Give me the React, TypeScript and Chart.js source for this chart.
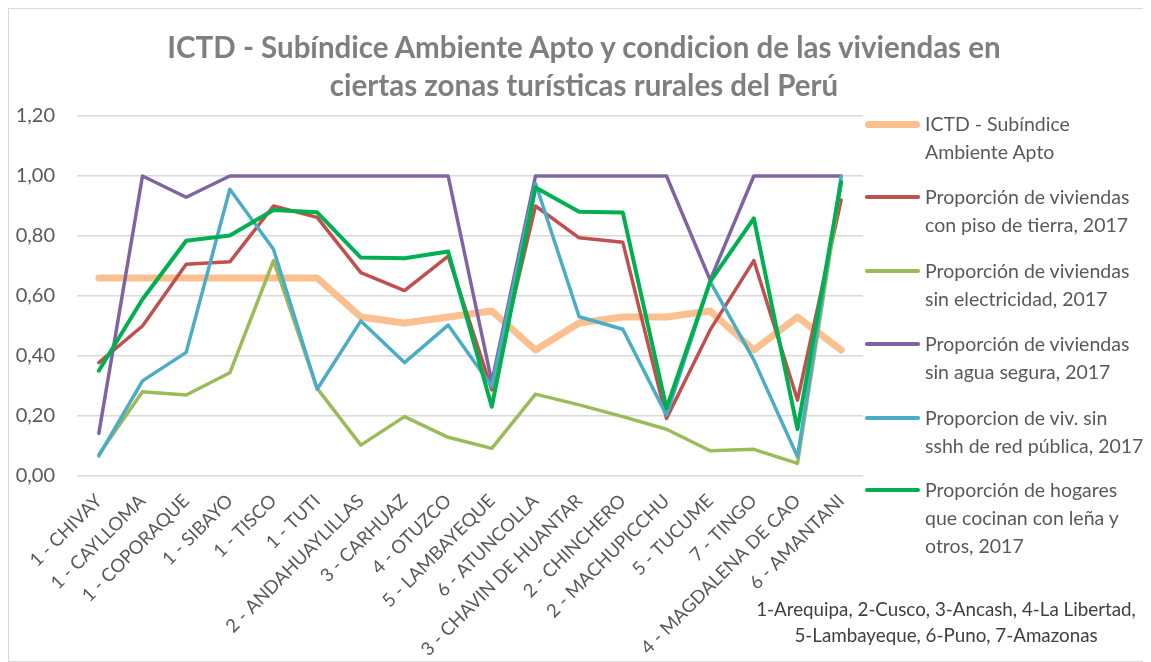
import React, { useEffect, useRef } from "react";
import { Chart, registerables } from "chart.js";

Chart.register(...registerables);

const categories = [
  "1 - CHIVAY", "1 - CAYLLOMA", "1 - COPORAQUE", "1 - SIBAYO", "1 - TISCO", "1 - TUTI",
  "2 - ANDAHUAYLILLAS", "3 - CARHUAZ", "4 - OTUZCO", "5 - LAMBAYEQUE", "6 - ATUNCOLLA",
  "3 - CHAVIN DE HUANTAR", "2 - CHINCHERO", "2 - MACHUPICCHU", "5 - TUCUME", "7 - TINGO",
  "4 - MAGDALENA DE CAO", "6 - AMANTANI",
];

const ictd = [0.66, 0.66, 0.66, 0.66, 0.66, 0.66, 0.53, 0.51, 0.53, 0.55, 0.42, 0.51, 0.53, 0.53, 0.55, 0.42, 0.53, 0.42];
const pisoTierra = [0.378, 0.5, 0.706, 0.714, 0.9, 0.862, 0.678, 0.618, 0.733, 0.287, 0.9, 0.794, 0.779, 0.192, 0.487, 0.718, 0.253, 0.92];
const sinElectricidad = [0.072, 0.281, 0.27, 0.344, 0.718, 0.292, 0.103, 0.198, 0.129, 0.092, 0.273, 0.237, 0.198, 0.156, 0.084, 0.089, 0.042, 0.98];
const sinAgua = [0.142, 1.0, 0.929, 1.0, 1.0, 1.0, 1.0, 1.0, 1.0, 0.314, 1.0, 1.0, 1.0, 1.0, 0.653, 1.0, 1.0, 1.0];
const sinSshh = [0.067, 0.317, 0.412, 0.956, 0.756, 0.289, 0.517, 0.378, 0.503, 0.298, 0.976, 0.531, 0.489, 0.203, 0.648, 0.387, 0.064, 1.0];
const lena = [0.351, 0.589, 0.784, 0.802, 0.887, 0.879, 0.728, 0.726, 0.748, 0.231, 0.962, 0.881, 0.878, 0.226, 0.648, 0.859, 0.156, 0.98];

const yTicks = [0, 0.2, 0.4, 0.6, 0.8, 1.0, 1.2];

const seriesNames = [
  ["ICTD - Subíndice", "Ambiente Apto"],
  ["Proporción de viviendas", "con piso de tierra, 2017"],
  ["Proporción de viviendas", "sin electricidad, 2017"],
  ["Proporción de viviendas", "sin agua segura, 2017"],
  ["Proporcion de viv. sin", "sshh de red pública, 2017"],
  ["Proporción de hogares", "que cocinan con leña y", "otros, 2017"],
];
const seriesColors = ["#FAC090", "#C0504D", "#9BBB59", "#8064A2", "#4BACC6", "#00B050"];
const seriesWidths = [7, 3.5, 3.5, 3.5, 3.5, 4];
const seriesData = [ictd, pisoTierra, sinElectricidad, sinAgua, sinSshh, lena];

const titleLines = [
  "ICTD - Subíndice Ambiente Apto y condicion de las viviendas en",
  "ciertas zonas turísticas rurales del Perú",
];
const noteLines = [
  "1-Arequipa, 2-Cusco, 3-Ancash, 4-La Libertad,",
  "5-Lambayeque, 6-Puno, 7-Amazonas",
];

const FONT = "Lato, 'Noto Sans', sans-serif";
const TEXT = "#595959";

export default function App() {
  const ref = useRef<HTMLCanvasElement | null>(null);

  useEffect(() => {
    if (!ref.current) return;
    const chart = new Chart(ref.current, {
      type: "line",
      data: {
        labels: categories,
        datasets: seriesData.map((d, i) => ({
          label: seriesNames[i].join(" "),
          data: d,
          borderColor: seriesColors[i],
          backgroundColor: seriesColors[i],
          borderWidth: seriesWidths[i],
          pointRadius: 0,
          tension: 0,
          fill: false,
          borderJoinStyle: "round" as const,
          borderCapStyle: "round" as const,
          order: seriesData.length - i,
        })),
      },
      options: {
        animation: false,
        responsive: false,
        maintainAspectRatio: false,
        layout: { padding: { top: 107, right: 287, left: 0, bottom: 0 } },
        plugins: {
          legend: { display: false },
          title: { display: false },
          tooltip: { enabled: false },
        },
        scales: {
          x: {
            offset: true,
            grid: { display: false },
            border: { display: false },
            ticks: {
              autoSkip: false,
              maxRotation: 45,
              minRotation: 45,
              padding: 6,
              color: TEXT,
              font: { family: FONT, size: 18.5 },
            },
            afterFit: (s: any) => { s.height = 185; },
          },
          y: {
            min: 0,
            max: 1.2,
            afterBuildTicks: (s: any) => { s.ticks = yTicks.map((v) => ({ value: v })); },
            grid: { color: "#d9d9d9", lineWidth: 1.5, drawTicks: false },
            border: { display: false },
            ticks: {
              padding: 22,
              color: TEXT,
              font: { family: FONT, size: 20 },
              callback: (v: any) => Number(v).toFixed(2).replace(".", ","),
            },
            afterFit: (s: any) => { s.width = 68; },
          },
        },
      },
    });
    return () => chart.destroy();
  }, []);

  const legendYs = [124, 197, 271, 344, 418, 490];

  return (
    <div
      style={{
        position: "relative",
        width: 1143,
        height: 654,
        border: "1px solid #d9d9d9",
        boxSizing: "border-box",
        fontFamily: FONT,
        background: "#fff",
        overflow: "hidden",
      }}
    >
      <canvas ref={ref} width={1141} height={652} style={{ position: "absolute", left: 0, top: 0 }} />
      <div
        style={{
          position: "absolute",
          left: 0,
          top: 19,
          width: 1150,
          textAlign: "center",
          color: "#7f7f7f",
          fontWeight: 700,
          fontSize: 29.5,
          lineHeight: "38px",
          whiteSpace: "nowrap",
        }}
      >
        {titleLines.map((t, i) => (
          <div key={i}>{t}</div>
        ))}
      </div>
      {seriesNames.map((lines, i) => (
        <div key={i} style={{ position: "absolute", left: 856, top: legendYs[i] - 9 - 14, color: TEXT, fontSize: 19.5, lineHeight: "28px" }}>
          <div
            style={{
              position: "absolute",
              left: 0,
              top: 14 - seriesWidths[i] / 2,
              width: 55,
              height: seriesWidths[i],
              borderRadius: seriesWidths[i] / 2,
              background: seriesColors[i],
            }}
          />
          <div style={{ marginLeft: 60, whiteSpace: "nowrap" }}>
            {lines.map((l, j) => (
              <div key={j}>{l}</div>
            ))}
          </div>
        </div>
      ))}
      <div
        style={{
          position: "absolute",
          left: 737,
          top: 596 - 9,
          width: 400,
          textAlign: "center",
          color: "#404040",
          fontSize: 18.8,
          lineHeight: "26px",
          whiteSpace: "nowrap",
        }}
      >
        {noteLines.map((t, i) => (
          <div key={i}>{t}</div>
        ))}
      </div>
    </div>
  );
}
